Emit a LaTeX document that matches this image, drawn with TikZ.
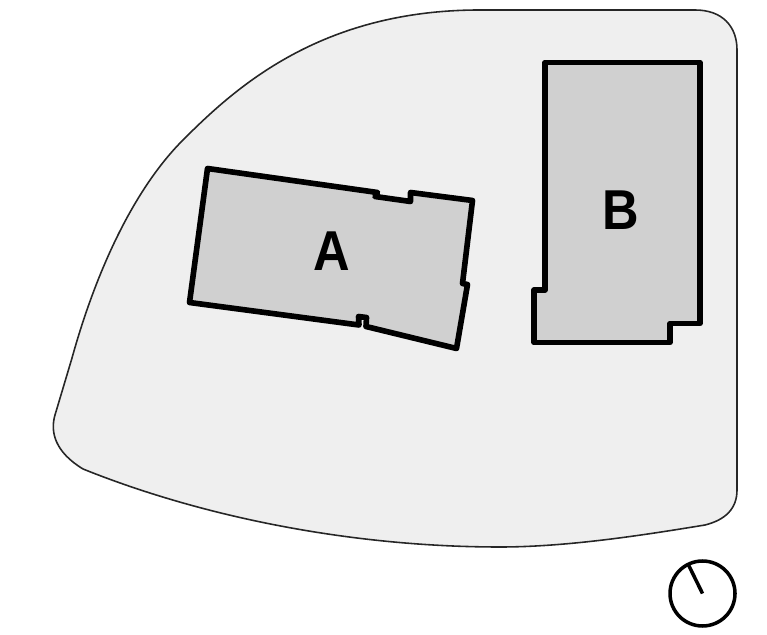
\documentclass[tikz,border=0pt]{standalone}
\usepackage{fontspec}
\setmainfont{Liberation Sans}
\newfontfamily\blockfont[FakeStretch=0.9]{Liberation Sans}
\definecolor{sitegray}{HTML}{EFEFEF}
\definecolor{blockgray}{HTML}{D0D0D0}
\tikzset{
    site/.style={fill=sitegray, draw=black!85, line width=0.9pt},
    block/.style={fill=blockgray, draw=black, line width=3.2pt, line join=round},
    blocklabel/.style={font=\blockfont\bfseries\fontsize{32}{32}\selectfont, inner sep=0pt}
}
\begin{document}
\begin{tikzpicture}
    \useasboundingbox (0, 0) rectangle (15.34, 12.68);
    % site
    \draw[site] (9.6, 12.48) to (13.9, 12.48)
        .. controls (14.45, 12.48) and (14.74, 12.15) .. (14.74, 11.68)
        to (14.74, 2.88)
        .. controls (14.74, 2.5) and (14.5, 2.28) .. (14.1, 2.18)
        .. controls (13, 2) and (11.4, 1.74) .. (10, 1.74)
        .. controls (7.2, 1.74) and (4.2, 2.28) .. (1.66, 3.3)
        .. controls (1.1, 3.64) and (1, 4.04) .. (1.1, 4.38)
        to (1.44, 5.52)
        .. controls (1.94, 7.32) and (2.7, 8.92) .. (3.66, 9.88)
        .. controls (4.7, 10.92) and (6.4, 12.48) .. (9.6, 12.48);
    % block A
    \draw[block] (4.15, 9.31) to (7.55, 8.83) to (7.5, 8.75) to (8.21, 8.65)
        to (8.21, 8.83) to (9.45, 8.67) to (9.25, 7.01) to (9.35, 6.99)
        to (9.13, 5.71) to (7.32, 6.15) to (7.33, 6.33) to (7.17, 6.35)
        to (7.18, 6.18) to (3.79, 6.63) -- cycle;
    \node[blocklabel] (labelA) at (6.64, 7.66) {A};
    % block B
    \draw[block] (10.9, 11.43) to (14, 11.43) to (14, 6.21) to (13.4, 6.21)
        to (13.4, 5.83) to (10.68, 5.83) to (10.68, 6.88) to (10.9, 6.88) -- cycle;
    \node[blocklabel] (labelB) at (12.41, 8.48) {B};
    % north mark
    \draw[line width=2pt] (14.05, 0.81) circle (0.65);
    \draw[line width=2pt] (14.05, 0.81) to (13.77, 1.38);
\end{tikzpicture}
\end{document}
